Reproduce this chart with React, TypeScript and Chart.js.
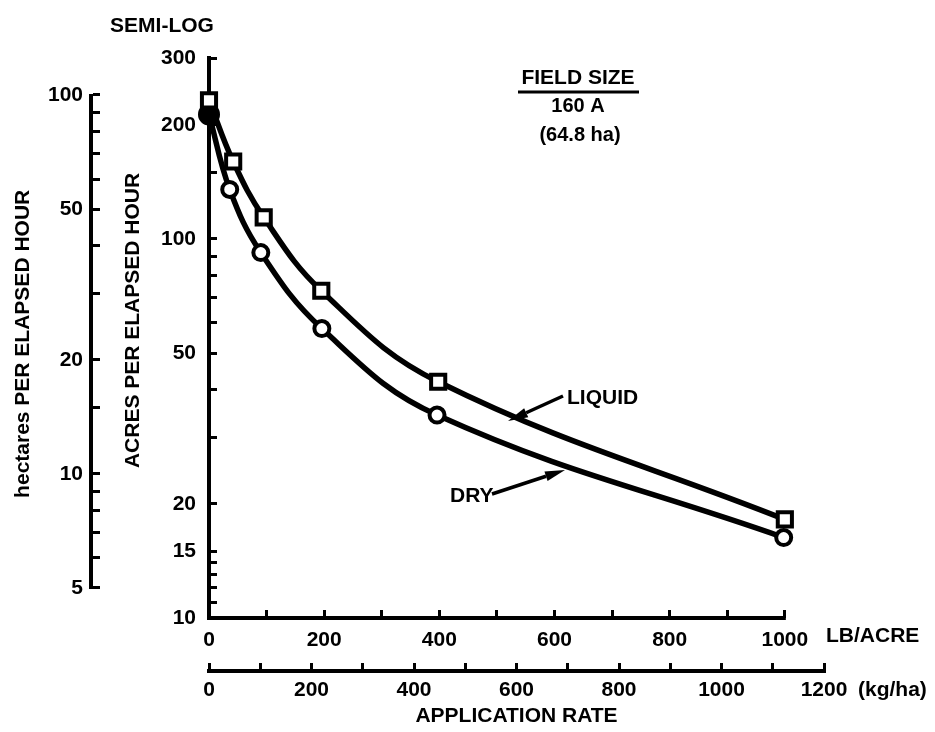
import React, { useEffect, useRef } from 'react';
import { Chart, registerables } from 'chart.js';

Chart.register(...registerables);

// ---- data ----
const liquidRate = [0, 42, 95, 195, 398, 1000];
const liquidAcres = [232, 160, 114, 73, 42, 18.2];
const dryRate = [0, 36, 90, 196, 396, 998];
const dryAcres = [213, 135, 92, 58, 34.3, 16.3];

// ---- ticks ----
const lbTicks = [0, 100, 200, 300, 400, 500, 600, 700, 800, 900, 1000];
const lbLabels = [0, 200, 400, 600, 800, 1000];
const kgTicks = [0, 100, 200, 300, 400, 500, 600, 700, 800, 900, 1000, 1100, 1200];
const kgLabels = [0, 200, 400, 600, 800, 1000, 1200];
const acreTicks = [10, 11, 12, 13, 14, 15, 20, 30, 40, 50, 60, 70, 80, 90, 100, 150, 200, 300];
const acreLabels = [10, 15, 20, 50, 100, 200, 300];
const haTicks = [5, 6, 7, 8, 9, 10, 15, 20, 30, 40, 50, 60, 70, 80, 90, 100];
const haLabels = [5, 10, 20, 50, 100];

const FAMILY = "'Liberation Sans', Arial, sans-serif";
const tickFont = { family: FAMILY, size: 21, weight: 'bold' as const };

const annotations = {
  id: 'annotations',
  afterDraw(chart: any) {
    const ctx = chart.ctx;
    const xs = chart.scales.x;
    const ys = chart.scales.yHa;
    ctx.save();
    ctx.strokeStyle = '#000';
    ctx.fillStyle = '#000';
    // LB axis line from 0 to 1000
    ctx.lineWidth = 4;
    ctx.beginPath();
    ctx.moveTo(xs.getPixelForValue(0) - 2, xs.top);
    ctx.lineTo(xs.getPixelForValue(1000) + 1, xs.top);
    ctx.stroke();
    // hectares axis line from 5 to 100
    ctx.beginPath();
    ctx.moveTo(ys.right - 2, ys.getPixelForValue(100) - 1);
    ctx.lineTo(ys.right - 2, ys.getPixelForValue(5) + 1);
    ctx.stroke();

    const font = (s: number) => `bold ${s}px ${FAMILY}`;
    ctx.textAlign = 'center';
    ctx.textBaseline = 'middle';
    ctx.font = font(21);
    ctx.fillText('SEMI-LOG', 162, 26);
    ctx.fillText('FIELD SIZE', 578, 78);
    ctx.lineWidth = 3;
    ctx.beginPath();
    ctx.moveTo(518, 92);
    ctx.lineTo(639, 92);
    ctx.stroke();
    ctx.font = font(20);
    ctx.fillText('160 A', 578, 106);
    ctx.fillText('(64.8 ha)', 580, 135);
    ctx.font = font(21);
    ctx.textAlign = 'left';
    ctx.fillText('LIQUID', 567, 398);
    ctx.fillText('DRY', 450, 496);
    ctx.fillText('LB/ACRE', 826, 636);
    ctx.fillText('(kg/ha)', 858, 690);

    const arrow = (x1: number, y1: number, x2: number, y2: number) => {
      const a = Math.atan2(y2 - y1, x2 - x1);
      const hl = 20, hw = 5;
      const bx = x2 - hl * Math.cos(a), by = y2 - hl * Math.sin(a);
      ctx.lineWidth = 3.5;
      ctx.beginPath();
      ctx.moveTo(x1, y1);
      ctx.lineTo(bx, by);
      ctx.stroke();
      ctx.beginPath();
      ctx.moveTo(x2, y2);
      ctx.lineTo(bx + hw * Math.sin(a), by - hw * Math.cos(a));
      ctx.lineTo(bx - hw * Math.sin(a), by + hw * Math.cos(a));
      ctx.closePath();
      ctx.fill();
    };
    arrow(563, 396, 508, 421);
    arrow(492, 494, 565, 470);
    ctx.restore();
  },
};

export default function App() {
  const ref = useRef<HTMLCanvasElement | null>(null);

  useEffect(() => {
    if (!ref.current) return;
    const chart = new Chart(ref.current, {
      type: 'line',
      data: {
        datasets: [
          {
            label: 'LIQUID',
            data: liquidRate.map((x, i) => ({ x, y: liquidAcres[i] })),
            xAxisID: 'x',
            yAxisID: 'y',
            borderColor: '#000',
            borderWidth: 5.5,
            pointStyle: 'rect',
            pointRadius: 10,
            pointBorderWidth: 4,
            pointBackgroundColor: '#fff',
            pointBorderColor: '#000',
            tension: 0.4,
            clip: false,
          } as any,
          {
            label: 'DRY',
            data: dryRate.map((x, i) => ({ x, y: dryAcres[i] })),
            xAxisID: 'x',
            yAxisID: 'y',
            borderColor: '#000',
            borderWidth: 5.5,
            pointStyle: 'circle',
            pointRadius: dryRate.map((_, i) => (i === 0 ? 9 : 7.5)),
            pointBorderWidth: 4,
            pointBackgroundColor: dryRate.map((_, i) => (i === 0 ? '#000' : '#fff')),
            pointBorderColor: '#000',
            tension: 0.4,
            clip: false,
          } as any,
        ],
      },
      options: {
        animation: false,
        responsive: false,
        devicePixelRatio: 1,
        layout: { padding: { left: 0, right: 111, top: 58, bottom: 0 } },
        plugins: { legend: { display: false }, tooltip: { enabled: false } },
        scales: {
          x: {
            type: 'linear',
            position: 'bottom',
            min: 0,
            max: 1068,
            bounds: 'data',
            weight: 0,
            afterBuildTicks: (s: any) => {
              s.ticks = lbTicks.map((v) => ({ value: v }));
            },
            afterFit: (s: any) => {
              s.height = 53;
            },
            ticks: {
              autoSkip: false,
              maxRotation: 0,
              padding: 18,
              color: '#000',
              font: tickFont,
              callback: (v: any) => (lbLabels.includes(Number(v)) ? String(v) : ''),
            },
            grid: { drawOnChartArea: false, drawTicks: true, tickLength: -8, tickWidth: 3, tickColor: '#000' },
            border: { display: false },
          },
          x2: {
            type: 'linear',
            position: 'bottom',
            min: 0,
            max: 1200,
            bounds: 'data',
            weight: 1,
            afterBuildTicks: (s: any) => {
              s.ticks = kgTicks.map((v) => ({ value: v }));
            },
            afterFit: (s: any) => {
              s.height = 61;
            },
            ticks: {
              autoSkip: false,
              maxRotation: 0,
              padding: 15,
              color: '#000',
              font: tickFont,
              callback: (v: any) => (kgLabels.includes(Number(v)) ? String(v) : ''),
            },
            grid: { drawOnChartArea: false, drawTicks: true, tickLength: -8, tickWidth: 3, tickColor: '#000' },
            border: { display: true, color: '#000', width: 4 },
            title: {
              display: true,
              text: 'APPLICATION RATE',
              color: '#000',
              font: tickFont,
              padding: { top: 0, bottom: 3 },
            },
          },
          y: {
            type: 'logarithmic',
            position: 'left',
            min: 10,
            max: 300,
            bounds: 'data',
            weight: 0,
            afterBuildTicks: (s: any) => {
              s.ticks = acreTicks.map((v) => ({ value: v }));
            },
            afterFit: (s: any) => {
              s.width = 116;
            },
            ticks: {
              autoSkip: false,
              padding: 21,
              color: '#000',
              font: tickFont,
              callback: (v: any) => (acreLabels.includes(Number(v)) ? String(v) : ''),
            },
            grid: { drawOnChartArea: false, drawTicks: true, tickLength: -8, tickWidth: 3, tickColor: '#000' },
            border: { display: true, color: '#000', width: 4 },
            title: {
              display: true,
              text: '      ACRES PER ELAPSED HOUR',
              color: '#000',
              font: tickFont,
              padding: { top: 28, bottom: 0 },
            },
          },
          yHa: {
            type: 'logarithmic',
            position: 'left',
            min: 4.166,
            max: 125.2,
            bounds: 'data',
            weight: 1,
            afterBuildTicks: (s: any) => {
              s.ticks = haTicks.map((v) => ({ value: v }));
            },
            afterFit: (s: any) => {
              s.width = 93;
            },
            ticks: {
              autoSkip: false,
              padding: 17,
              color: '#000',
              font: tickFont,
              callback: (v: any) => (haLabels.includes(Number(v)) ? String(v) : ''),
            },
            grid: { drawOnChartArea: false, drawTicks: true, tickLength: -7, tickWidth: 3, tickColor: '#000' },
            border: { display: false },
            title: {
              display: true,
              text: 'hectares PER ELAPSED HOUR  ',
              color: '#000',
              font: tickFont,
              padding: { top: 11, bottom: 0 },
            },
          },
        },
      } as any,
      plugins: [annotations],
    });
    return () => chart.destroy();
  }, []);

  return (
    <div style={{ position: 'absolute', left: 0, top: 0, width: 935, height: 732, background: '#fff' }}>
      <canvas ref={ref} width={935} height={732} style={{ display: 'block' }} />
    </div>
  );
}
